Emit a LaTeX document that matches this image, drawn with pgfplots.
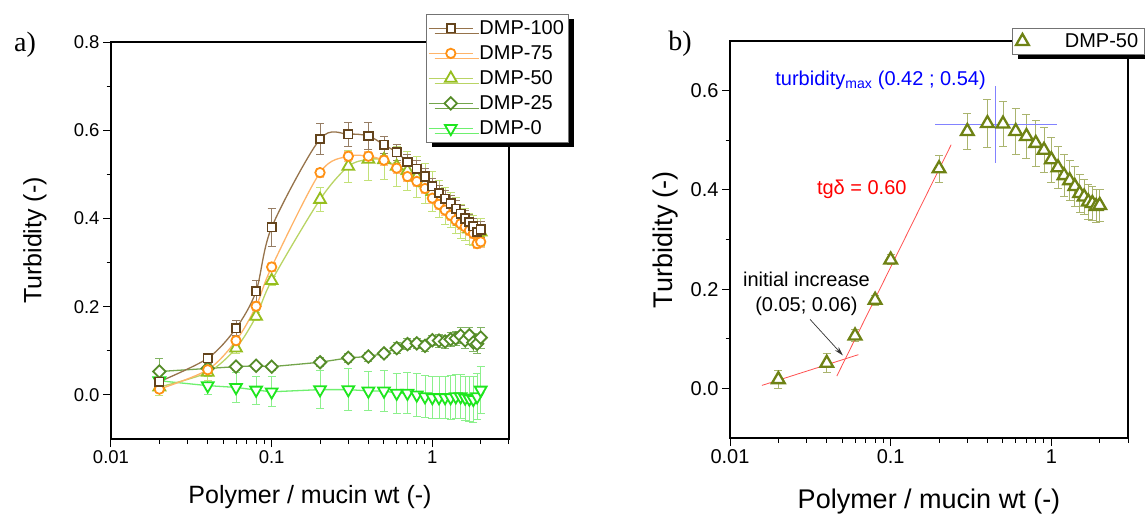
\documentclass[border=0pt]{standalone}
\usepackage{pgfplots}
\pgfplotsset{compat=1.18}
\usepackage{pgfplotstable}
\usepackage{fontspec}
\setmainfont{Liberation Sans}
\newfontfamily\seriffont{Liberation Serif}
\usetikzlibrary{shadows,arrows.meta}

\definecolor{c100m}{RGB}{100,68,28}
\definecolor{c100l}{RGB}{150,115,75}
\definecolor{c100e}{RGB}{150,125,100}
\definecolor{c75m}{RGB}{255,145,20}
\definecolor{c75l}{RGB}{255,180,105}
\definecolor{c75e}{RGB}{255,190,130}
\definecolor{c50m}{RGB}{150,190,30}
\definecolor{c50l}{RGB}{185,212,100}
\definecolor{c50e}{RGB}{195,225,120}
\definecolor{c25m}{RGB}{85,140,40}
\definecolor{c25l}{RGB}{115,165,75}
\definecolor{c25e}{RGB}{130,180,100}
\definecolor{c0m}{RGB}{30,230,30}
\definecolor{c0l}{RGB}{110,240,110}
\definecolor{c0e}{RGB}{140,240,140}
\definecolor{c50r}{RGB}{110,130,20}
\definecolor{c50re}{RGB}{170,180,110}
\definecolor{annblue}{RGB}{0,0,255}
\definecolor{lineblue}{RGB}{130,130,255}
\definecolor{annred}{RGB}{255,0,0}
\definecolor{linered}{RGB}{255,80,80}

\pgfplotstableread{
x y e
0.02 0.030 0.010
0.04 0.083 0.012
0.06 0.151 0.017
0.08 0.235 0.025
0.1 0.380 0.043
0.2 0.580 0.035
0.3 0.591 0.027
0.4 0.587 0.031
0.5 0.567 0.020
0.6 0.550 0.018
0.7 0.528 0.018
0.8 0.513 0.018
0.9 0.495 0.018
1.0 0.473 0.018
1.1 0.458 0.018
1.2 0.445 0.018
1.3 0.434 0.018
1.4 0.422 0.018
1.5 0.411 0.018
1.6 0.400 0.018
1.7 0.392 0.018
1.8 0.382 0.018
1.9 0.369 0.018
2.0 0.375 0.018
}\dmpA

\pgfplotstableread{
x y e
0.02 0.013 0.008
0.04 0.057 0.008
0.06 0.123 0.010
0.08 0.201 0.010
0.1 0.290 0.010
0.2 0.504 0.010
0.3 0.541 0.012
0.4 0.541 0.012
0.5 0.532 0.012
0.6 0.514 0.012
0.7 0.495 0.012
0.8 0.484 0.012
0.9 0.468 0.012
1.0 0.446 0.012
1.1 0.432 0.012
1.2 0.419 0.012
1.3 0.407 0.012
1.4 0.396 0.012
1.5 0.388 0.012
1.6 0.381 0.012
1.7 0.373 0.012
1.8 0.366 0.012
1.9 0.343 0.012
2.0 0.347 0.012
}\dmpB

\pgfplotstableread{
x y e
0.02 0.018 0.018
0.04 0.051 0.019
0.06 0.106 0.012
0.08 0.178 0.010
0.1 0.259 0.010
0.2 0.443 0.027
0.3 0.518 0.037
0.4 0.534 0.048
0.5 0.533 0.045
0.6 0.518 0.046
0.7 0.508 0.044
0.8 0.494 0.047
0.9 0.480 0.045
1.0 0.461 0.045
1.1 0.445 0.042
1.2 0.429 0.042
1.3 0.419 0.040
1.4 0.407 0.040
1.5 0.393 0.038
1.6 0.386 0.036
1.7 0.376 0.035
1.8 0.373 0.035
1.9 0.367 0.033
2.0 0.369 0.032
}\dmpC

\pgfplotstableread{
x y e
0.02 0.053 0.030
0.04 0.060 0.008
0.06 0.064 0.008
0.08 0.066 0.008
0.1 0.064 0.008
0.2 0.074 0.010
0.3 0.084 0.010
0.4 0.087 0.010
0.5 0.094 0.010
0.6 0.106 0.012
0.7 0.115 0.012
0.8 0.117 0.012
0.9 0.111 0.012
1.0 0.124 0.012
1.1 0.123 0.015
1.2 0.121 0.015
1.3 0.126 0.015
1.4 0.128 0.015
1.5 0.134 0.018
1.6 0.124 0.018
1.7 0.135 0.018
1.8 0.119 0.020
1.9 0.116 0.022
2.0 0.130 0.024
}\dmpD

\pgfplotstableread{
x y e
0.02 0.032 0.015
0.04 0.021 0.020
0.06 0.017 0.034
0.08 0.011 0.032
0.1 0.007 0.034
0.2 0.012 0.043
0.3 0.012 0.047
0.4 0.009 0.045
0.5 0.009 0.047
0.6 0.004 0.045
0.7 0.004 0.047
0.8 0.000 0.048
0.9 -0.004 0.048
1.0 -0.006 0.047
1.1 -0.006 0.048
1.2 -0.006 0.048
1.3 -0.006 0.050
1.4 -0.004 0.050
1.5 -0.004 0.050
1.6 -0.007 0.050
1.7 -0.009 0.052
1.8 -0.010 0.052
1.9 -0.004 0.052
2.0 0.011 0.053
}\dmpE

\pgfkeys{/pgf/number format/assume math mode=true}

\begin{document}
\begin{tikzpicture}
% ---------------- panel a
\begin{axis}[at={(111pt,-439pt)}, anchor=south west,
  xmode=log, xmin=0.01, xmax=3,
  scale only axis, width=398pt, height=397pt,
  axis line style={line width=1.1pt, black},
  tick align=outside, tick pos=left,
  major tick length=8pt, minor tick length=4.5pt,
  every tick/.style={black, line width=1pt},
  xtick={0.01,0.1,1}, xticklabels={0.01,0.1,1},
  minor xtick={0.02,0.03,0.04,0.05,0.06,0.07,0.08,0.09,0.2,0.3,0.4,0.5,0.6,0.7,0.8,0.9,2,3},
  minor y tick num=1,
  yticklabel style={/pgf/number format/fixed, /pgf/number format/fixed zerofill, /pgf/number format/precision=1},
  xlabel={Polymer / mucin wt (-)},
  ylabel={Turbidity (-)},
  ymin=-0.1, ymax=0.8, ytick={0,0.2,0.4,0.6,0.8},
  tick label style={font=\fontsize{18.5}{22}\selectfont},
  label style={font=\fontsize{25}{30}\selectfont},
  xlabel style={at={(axis description cs:0.5,-0.146)}, anchor=center},
  ylabel style={at={(axis description cs:-0.191,0.5)}, anchor=center},
  reverse legend,
  legend style={at={(0.791,1.0705)}, anchor=north west, fill=white, draw=black!55, line width=0.7pt,
    font=\fontsize{20}{24}\selectfont, inner xsep=2pt, inner ysep=4pt, row sep=5pt,
    nodes={inner sep=2pt, text height=14pt, text depth=2pt},
    /tikz/every odd column/.append style={column sep=4pt},
    drop shadow={shadow xshift=6pt, shadow yshift=-5pt, fill=black, opacity=1},
    cells={anchor=west}},
  legend image code/.code={\draw[mark repeat=2,mark phase=2] plot coordinates {(0pt,0pt) (22pt,0pt) (44pt,0pt)};},
]
% error bars (behind markers)
\addplot[forget plot, draw=none, mark=none,
  error bars/.cd, y dir=both, y explicit,
  error bar style={draw=c0e, line width=0.8pt},
  error mark options={draw=c0e, line width=0.8pt, mark size=4pt, rotate=90}]
  table[x=x,y=y,y error=e]{\dmpE};
\addplot[forget plot, draw=none, mark=none,
  error bars/.cd, y dir=both, y explicit,
  error bar style={draw=c25e, line width=0.8pt},
  error mark options={draw=c25e, line width=0.8pt, mark size=4pt, rotate=90}]
  table[x=x,y=y,y error=e]{\dmpD};
\addplot[forget plot, draw=none, mark=none,
  error bars/.cd, y dir=both, y explicit,
  error bar style={draw=c50e, line width=0.8pt},
  error mark options={draw=c50e, line width=0.8pt, mark size=4pt, rotate=90}]
  table[x=x,y=y,y error=e]{\dmpC};
\addplot[forget plot, draw=none, mark=none,
  error bars/.cd, y dir=both, y explicit,
  error bar style={draw=c75e, line width=0.8pt},
  error mark options={draw=c75e, line width=0.8pt, mark size=4pt, rotate=90}]
  table[x=x,y=y,y error=e]{\dmpB};
\addplot[forget plot, draw=none, mark=none,
  error bars/.cd, y dir=both, y explicit,
  error bar style={draw=c100e, line width=0.8pt},
  error mark options={draw=c100e, line width=0.8pt, mark size=4pt, rotate=90}]
  table[x=x,y=y,y error=e]{\dmpA};
% series
\addplot[c0l, line width=1.3pt, mark=triangle*, mark size=6.8pt,
  mark options={draw=c0m, fill=white, line width=1.8pt, solid, rotate=180, mark size=6.8pt}]
  table[x=x,y=y]{\dmpE};
\addlegendentry{DMP-0}
\addplot[c25l, line width=1.3pt, mark=square*, mark size=4.4pt,
  mark options={draw=c25m, fill=white, line width=1.8pt, solid, rotate=45, mark size=4.4pt}]
  table[x=x,y=y]{\dmpD};
\addlegendentry{DMP-25}
\addplot[c50l, line width=1.3pt, smooth, tension=0.5, mark=triangle*, mark size=6.8pt,
  mark options={draw=c50m, fill=white, line width=1.8pt, solid, mark size=6.8pt}]
  table[x=x,y=y]{\dmpC};
\addlegendentry{DMP-50}
\addplot[c75l, line width=1.3pt, smooth, tension=0.5, mark=*, mark size=4.7pt,
  mark options={draw=c75m, fill=white, line width=1.8pt, solid, mark size=4.7pt}]
  table[x=x,y=y]{\dmpB};
\addlegendentry{DMP-75}
\addplot[c100l, line width=1.3pt, smooth, tension=0.5, mark=square*, mark size=4.2pt,
  mark options={draw=c100m, fill=white, line width=1.8pt, solid, mark size=4.2pt}]
  table[x=x,y=y]{\dmpA};
\addlegendentry{DMP-100}
\end{axis}

% ---------------- panel b
\begin{axis}[at={(730pt,-438pt)}, anchor=south west,
  xmode=log, xmin=0.01, xmax=3,
  scale only axis, width=398pt, height=397pt,
  axis line style={line width=1.1pt, black},
  tick align=outside, tick pos=left,
  major tick length=8pt, minor tick length=4.5pt,
  every tick/.style={black, line width=1pt},
  xtick={0.01,0.1,1}, xticklabels={0.01,0.1,1},
  minor xtick={0.02,0.03,0.04,0.05,0.06,0.07,0.08,0.09,0.2,0.3,0.4,0.5,0.6,0.7,0.8,0.9,2,3},
  minor y tick num=1,
  yticklabel style={/pgf/number format/fixed, /pgf/number format/fixed zerofill, /pgf/number format/precision=1},
  xlabel={Polymer / mucin wt (-)},
  ylabel={Turbidity (-)},
  ymin=-0.1, ymax=0.7, ytick={0,0.2,0.4,0.6},
  tick label style={font=\fontsize{20}{24}\selectfont},
  label style={font=\fontsize{27}{32}\selectfont},
  xlabel style={at={(axis description cs:0.5,-0.161)}, anchor=center},
  ylabel style={at={(axis description cs:-0.163,0.5)}, anchor=center},
  legend style={at={(0.708,1.033)}, anchor=north west, fill=white, draw=black!55, line width=0.7pt,
    font=\fontsize{20}{24}\selectfont, inner xsep=4pt, inner ysep=3pt,
    nodes={inner sep=2pt, text height=14pt, text depth=2pt},
    drop shadow={shadow xshift=6pt, shadow yshift=-5pt, fill=black, opacity=1},
    cells={anchor=west}},
  legend image code/.code={\node[draw=none, fill=none, inner sep=0pt, minimum width=40pt, minimum height=2pt] at (20pt,0pt) {}; \draw[mark repeat=2,mark phase=2] plot coordinates {(18pt,0pt) (20pt,0pt) (22pt,0pt)};},
]
\addplot[forget plot, draw=none, mark=none,
  error bars/.cd, y dir=both, y explicit,
  error bar style={draw=c50re, line width=0.8pt},
  error mark options={draw=c50re, line width=0.8pt, mark size=4pt, rotate=90}]
  table[x=x,y=y,y error=e]{\dmpC};
\addplot[linered, line width=0.8pt, forget plot] coordinates {(0.0462,0.0247) (0.238,0.491)};
\addplot[linered, line width=0.8pt, forget plot] coordinates {(0.0158,0.006) (0.063,0.068)};
\addplot[only marks, mark=triangle*, mark size=7.3pt,
  mark options={draw=c50r, fill=white, line width=2.3pt, solid, mark size=7.3pt}]
  table[x=x,y=y]{\dmpC};
\addlegendentry{DMP-50}
\addplot[lineblue, line width=1.1pt, forget plot] coordinates {(0.19,0.532) (1.09,0.532)};
\addplot[lineblue, line width=1.1pt, forget plot] coordinates {(0.45,0.455) (0.45,0.61)};
\draw[-{Stealth[length=9pt,width=5pt]}, black!80, line width=0.7pt]
  (axis cs:0.0315,0.139) -- (axis cs:0.0504,0.0665);
\node[anchor=west, text=annblue, font=\fontsize{20}{24}\selectfont, inner sep=0pt]
  at (axis cs:0.0191,0.62) {turbidity\textsubscript{max} (0.42 ; 0.54)};
\node[anchor=west, text=annred, font=\fontsize{20}{24}\selectfont, inner sep=0pt]
  at (axis cs:0.0347,0.401) {tgδ = 0.60};
\node[align=center, text=black, font=\fontsize{20}{25}\selectfont, inner sep=0pt]
  at (axis cs:0.0299,0.1915) {initial increase\\(0.05; 0.06)};
\end{axis}

\node[font=\seriffont\fontsize{28}{32}\selectfont] at (25pt,-45pt) {a)};
\node[font=\seriffont\fontsize{28}{32}\selectfont] at (680pt,-44pt) {b)};

\pgfresetboundingbox
\path (0pt,0pt) rectangle (1145pt,-515pt);
\end{tikzpicture}
\end{document}
